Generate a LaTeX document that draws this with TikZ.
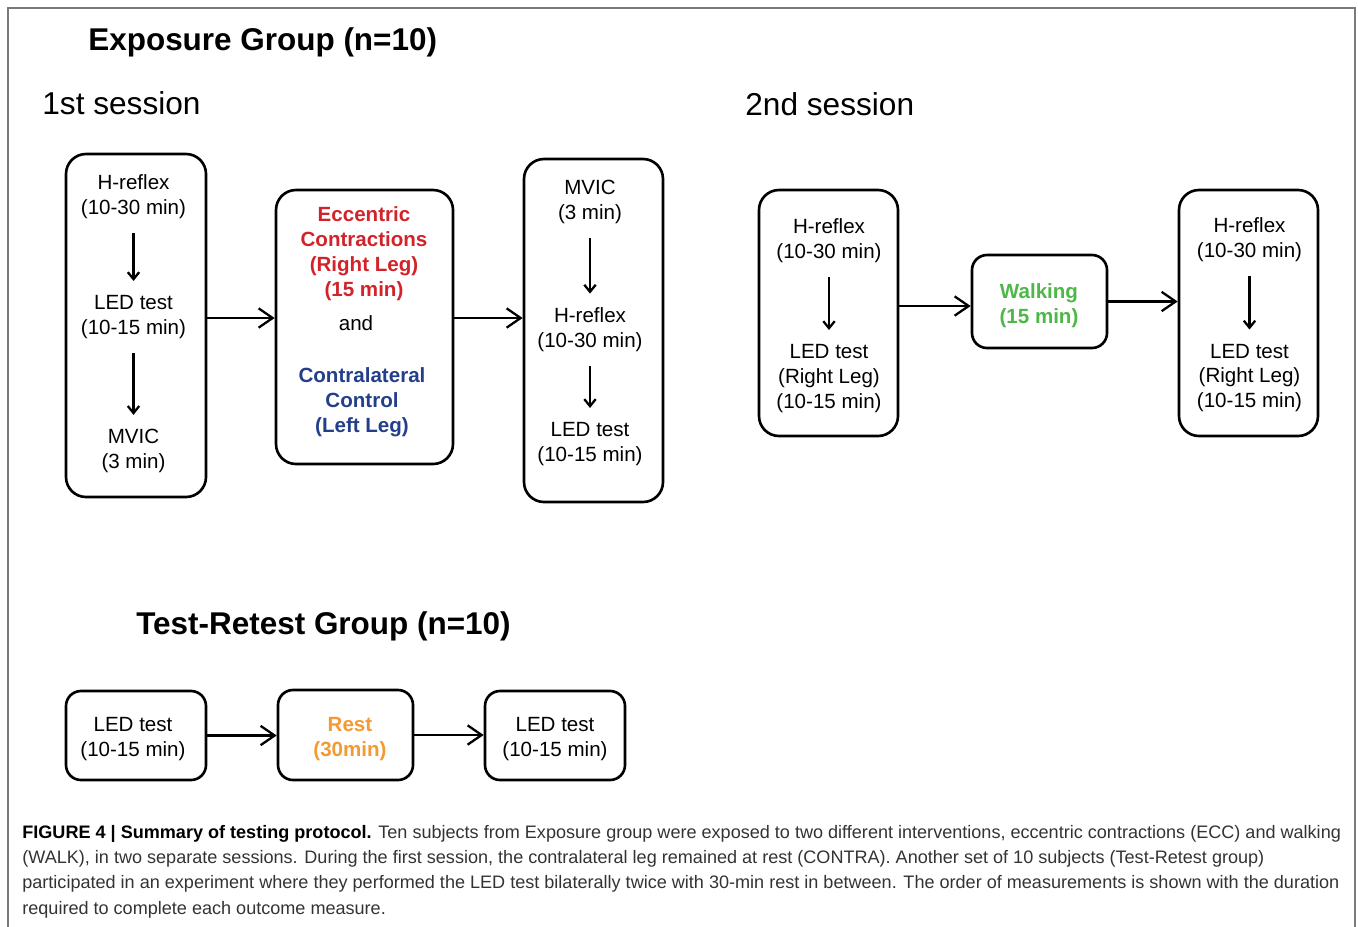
\documentclass[tikz,border=0pt]{standalone}
\usepackage{fontspec}
\setmainfont{Liberation Sans}
\usetikzlibrary{arrows.meta, calc}

\definecolor{eccred}{HTML}{D2232A}
\definecolor{ctrlblue}{HTML}{233E8B}
\definecolor{walkgreen}{HTML}{4DB848}
\definecolor{restorange}{HTML}{F39A33}
\definecolor{framegray}{HTML}{7A7A7A}
\definecolor{capgray}{HTML}{333333}

\tikzset{
  stage/.style={draw, line width=1.5pt, rounded corners=0.4cm},
  small stage/.style={draw, line width=1.5pt, rounded corners=0.3cm},
  txt/.style={align=center, inner sep=0pt, yshift=-0.05cm, font=\fontsize{11.7}{14.2}\selectfont},
  hot/.style={align=center, inner sep=0pt, yshift=-0.05cm, font=\fontsize{11.7}{14.2}\selectfont\bfseries},
  flow/.style={line width=1.3pt, -{Straight Barb[length=8pt,width=11pt]}},
  down/.style={line width=1.3pt, -{Straight Barb[length=4pt,width=6.5pt]}, shorten <=0.28cm, shorten >=0.28cm},
  title/.style={anchor=west, inner sep=0pt, yshift=-0.06cm, font=\fontsize{17.9}{21}\selectfont\bfseries},
  session/.style={anchor=west, inner sep=0pt, font=\fontsize{18}{21}\selectfont}
}

\begin{document}
\begin{tikzpicture}
    \useasboundingbox (0,0) rectangle (27.16,-18.52);
    \draw[framegray, line width=1.1pt] (0.16,-18.7) -- (0.16,-0.16) -- (27.1,-0.16) -- (27.1,-18.7);

    \node[title] (exp) at (1.76,-0.78) {Exposure Group (n=10)};
    \node[session] (s1) at (0.84,-2.06) {1st session};
    \node[session] (s2) at (14.9,-2.08) {2nd session};

    % 1st session
    \node[stage, minimum width=2.8cm, minimum height=6.86cm] (A) at (2.72,-6.51) {};
    \node[txt] (a1) at (2.67,-3.88) {H-reflex\\(10-30 min)};
    \node[txt] (a2) at (2.67,-6.29) {LED test\\(10-15 min)};
    \node[txt] (a3) at (2.67,-8.97) {MVIC\\(3 min)};
    \draw[down] (a1) -- (a2);
    \draw[down] (a2) -- (a3);

    \node[stage, minimum width=3.54cm, minimum height=5.48cm] (B) at (7.29,-6.54) {};
    \node[hot, text=eccred] (b1) at (7.28,-5.02) {Eccentric\\Contractions\\(Right Leg)\\(15 min)};
    \node[txt] (b2) at (7.12,-6.42) {and};
    \node[hot, text=ctrlblue] (b3) at (7.24,-8.0) {Contralateral\\Control\\(Left Leg)};

    \node[stage, minimum width=2.78cm, minimum height=6.86cm] (C) at (11.87,-6.61) {};
    \node[txt] (c1) at (11.8,-3.99) {MVIC\\(3 min)};
    \node[txt] (c2) at (11.8,-6.55) {H-reflex\\(10-30 min)};
    \node[txt] (c3) at (11.8,-8.83) {LED test\\(10-15 min)};
    \draw[down] (c1) -- (c2);
    \draw[down] (c2) -- (c3);

    \coordinate (ab) at ($(A.east)+(0,0.15)$);
    \coordinate (bc) at ($(B.east)+(0,0.18)$);
    \draw[flow] (ab) -- (ab -| B.west);
    \draw[flow] (bc) -- (bc -| C.west);

    % 2nd session
    \node[stage, minimum width=2.78cm, minimum height=4.92cm] (D) at (16.57,-6.26) {};
    \node[txt] (d1) at (16.58,-4.77) {H-reflex\\(10-30 min)};
    \node[txt] (d2) at (16.58,-7.52) {LED test\\(Right Leg)\\(10-15 min)};
    \draw[down] (d1) -- (d2);

    \node[small stage, minimum width=2.7cm, minimum height=1.86cm] (E) at (20.79,-6.03) {};
    \node[hot, text=walkgreen] (e1) at (20.78,-6.07) {Walking\\(15 min)};

    \node[stage, minimum width=2.78cm, minimum height=4.92cm] (F) at (24.97,-6.26) {};
    \node[txt] (f1) at (24.99,-4.75) {H-reflex\\(10-30 min)};
    \node[txt] (f2) at (24.99,-7.51) {LED test\\(Right Leg)\\(10-15 min)};
    \draw[down] (f1) -- (f2);

    \coordinate (de) at ($(D.east)+(0,0.14)$);
    \draw[flow] (de) -- (de -| E.west);
    \draw[flow] (E.east) -- (E.east -| F.west);

    % test-retest group
    \node[title] (tr) at (2.72,-12.46) {Test-Retest Group (n=10)};

    \node[small stage, minimum width=2.8cm, minimum height=1.78cm] (G) at (2.72,-14.71) {};
    \node[txt] (g1) at (2.66,-14.73) {LED test\\(10-15 min)};
    \node[small stage, minimum width=2.7cm, minimum height=1.8cm] (H) at (6.91,-14.7) {};
    \node[hot, text=restorange] (h1) at (7.0,-14.73) {Rest\\(30min)};
    \node[small stage, minimum width=2.8cm, minimum height=1.78cm] (I) at (11.1,-14.71) {};
    \node[txt] (i1) at (11.1,-14.73) {LED test\\(10-15 min)};

    \draw[flow] (G.east) -- (G.east -| H.west);
    \draw[flow] (H.east) -- (H.east -| I.west);

    % caption
    \node[anchor=base west, align=left, inner sep=0pt, text=capgray,
          font=\fontsize{10.28}{14.4}\selectfont] (cap) at (0.44,-18.28)
      {\textbf{\color{black}FIGURE 4 | Summary of testing protocol.} Ten subjects from Exposure group were exposed to two different interventions, eccentric contractions (ECC) and walking\\
       (WALK), in two separate sessions. During the first session, the contralateral leg remained at rest (CONTRA). Another set of 10 subjects (Test-Retest group)\\
       participated in an experiment where they performed the LED test bilaterally twice with 30-min rest in between. The order of measurements is shown with the duration\\
       required to complete each outcome measure.};
\end{tikzpicture}
\end{document}
